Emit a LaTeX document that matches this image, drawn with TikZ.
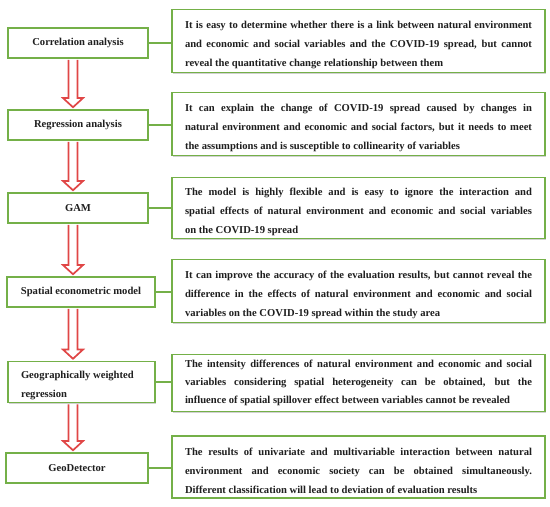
\documentclass[tikz,border=0pt]{standalone}
\usepackage{fontspec}
\setmainfont{Liberation Serif}
\usetikzlibrary{shadows,calc}
\definecolor{boxgreen}{RGB}{116,176,72}
\definecolor{arrred}{RGB}{224,70,70}
\newcommand{\topstrut}{\rule{0pt}{15pt}}
\tikzset{
  boxshadow/.style={drop shadow={shadow xshift=1.2pt,shadow yshift=-1.2pt,opacity=.3,fill=black!60}},
  lbox/.style={draw=boxgreen, line width=1.9pt, fill=white, inner sep=0pt, boxshadow,
    font=\bfseries\fontsize{10.6}{15}\selectfont, text=black!88},
  rbox/.style={draw=boxgreen, line width=1.9pt, fill=white, inner xsep=13pt, inner ysep=0pt,
    text width=347pt, align=justify, boxshadow, minimum height=62pt,
    font=\bfseries\fontsize{10.6}{19}\selectfont, text=black!88},
  link/.style={draw=boxgreen, line width=1.9pt},
  fatarr/.style={draw=arrred, line width=1.7pt, fill=white, line join=miter}
}
\newcommand{\fatarrow}[2]{%
  \filldraw[fatarr] ($(#1.south -| ax)+(-4.5,0.9)$) -- ($(#2.north -| ax)+(-4.5,-11)$)
    -- ($(#2.north -| ax)+(-10,-11)$) -- ($(#2.north -| ax)+(0,-1.8)$)
    -- ($(#2.north -| ax)+(10,-11)$) -- ($(#2.north -| ax)+(4.5,-11)$)
    -- ($(#1.south -| ax)+(4.5,0.9)$);}
\begin{document}
\begin{tikzpicture}[x=1pt,y=-1pt]
\useasboundingbox (0,0) rectangle (550,507);
\coordinate (ax) at (73,0);
% left boxes
\node[lbox, minimum width=140pt, minimum height=30pt] (l1) at (78,43) {Correlation analysis};
\node[lbox, minimum width=140pt, minimum height=30pt] (l2) at (78,125) {Regression analysis};
\node[lbox, minimum width=140pt, minimum height=30pt] (l3) at (78,208) {GAM};
\node[lbox, minimum width=148pt, minimum height=30pt] (l4) at (81,292) {Spatial econometric model};
\node[lbox, minimum width=147pt, minimum height=41pt, align=flush left, text width=121pt,
  font=\bfseries\fontsize{10.6}{19}\selectfont] (l5) at (81.5,382) {\topstrut Geographically weighted\\regression};
\node[lbox, minimum width=142pt, minimum height=30pt] (l6) at (77,468) {GeoDetector};
% right boxes
\node[rbox, minimum height=63pt] (r1) at (358.5,41) {\topstrut It is easy to determine whether there is a link between natural environment\linebreak and economic and social variables and the COVID-19 spread, but cannot\linebreak reveal the quantitative change relationship between them};
\node[rbox, minimum height=63pt] (r2) at (358.5,124) {\topstrut It can explain the change of COVID-19 spread caused by changes in\linebreak natural environment and economic and social factors, but it needs to meet\linebreak the assumptions and is susceptible to collinearity of variables};
\node[rbox, minimum height=61pt] (r3) at (358.5,208) {\topstrut The model is highly flexible and is easy to ignore the interaction and\linebreak spatial effects of natural environment and economic and social variables\linebreak on the COVID-19 spread};
\node[rbox, minimum height=63pt] (r4) at (358.5,291) {\topstrut It can improve the accuracy of the evaluation results, but cannot reveal the\linebreak difference in the effects of natural environment and economic and social\linebreak variables on the COVID-19 spread within the study area};
\node[rbox, minimum height=57pt, font=\bfseries\fontsize{10.6}{18}\selectfont] (r5) at (358.5,383) {The intensity differences of natural environment and economic and social\linebreak variables considering spatial heterogeneity can be obtained, but the\linebreak influence of spatial spillover effect between variables cannot be revealed};
\node[rbox, minimum height=62pt] (r6) at (358.5,467) {\topstrut The results of univariate and multivariable interaction between natural\linebreak environment and economic society can be obtained simultaneously.\linebreak Different classification will lead to deviation of evaluation results};
% connectors
\foreach \i in {1,...,6} {\draw[link] (l\i.east) -- (l\i.east -| r\i.west);}
% arrows
\fatarrow{l1}{l2}
\fatarrow{l2}{l3}
\fatarrow{l3}{l4}
\fatarrow{l4}{l5}
\fatarrow{l5}{l6}
\end{tikzpicture}
\end{document}
